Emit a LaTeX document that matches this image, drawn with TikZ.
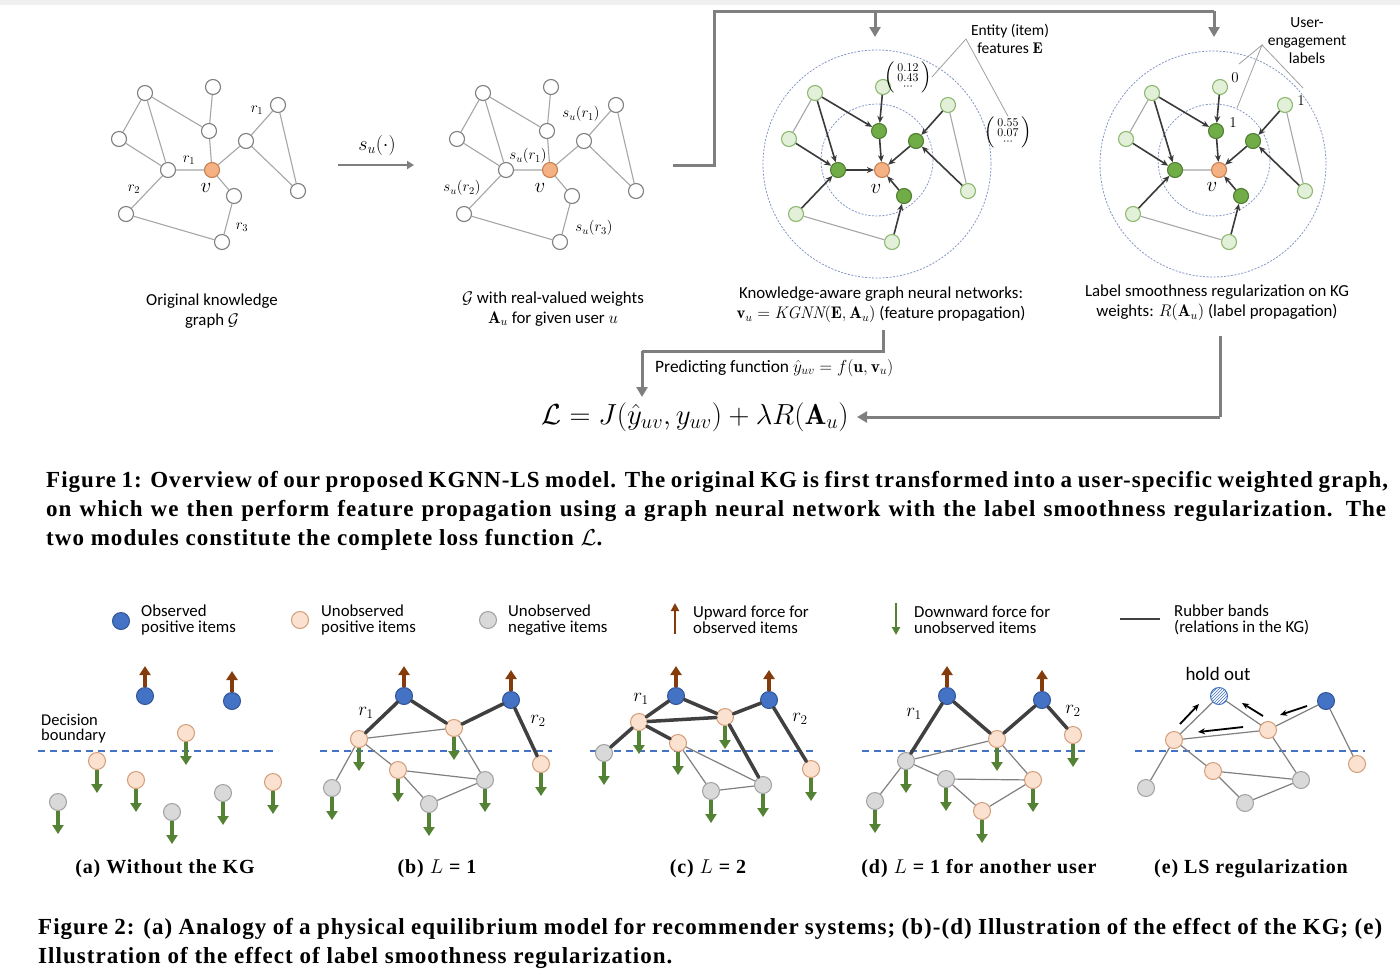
\RequirePackage{fix-cm}
\documentclass[tikz,border=0pt]{standalone}
\usepackage{amsmath}
\usepackage{fontspec}
\usetikzlibrary{arrows.meta,patterns}
\newfontfamily\calibri{Carlito}
\newfontfamily\capserif[LetterSpace=4.5]{Liberation Serif}
\definecolor{kgray}{HTML}{7F7F7F}
\definecolor{kedge}{HTML}{A6A6A6}
\definecolor{orF}{HTML}{F4B183}
\definecolor{orB}{HTML}{C9804F}
\definecolor{lgF}{HTML}{E2F0D9}
\definecolor{lgB}{HTML}{8DB870}
\definecolor{gnF}{HTML}{70AD47}
\definecolor{gnB}{HTML}{507E32}
\definecolor{darkE}{HTML}{3A3A3A}
\definecolor{circB}{HTML}{8497C8}
\definecolor{connG}{HTML}{7F7F7F}
\definecolor{blueF}{HTML}{4472C4}
\definecolor{blueB}{HTML}{2F5597}
\definecolor{peF}{HTML}{FBE2D0}
\definecolor{peB}{HTML}{D39C78}
\definecolor{grF}{HTML}{D9D9D9}
\definecolor{grB}{HTML}{A0A0A0}
\definecolor{brownA}{HTML}{843C0C}
\definecolor{greenA}{HTML}{548235}
\definecolor{thinG}{HTML}{808080}
\definecolor{thickG}{HTML}{404040}
\definecolor{callG}{HTML}{A0A0A0}
\tikzset{
  kn/.style={circle, inner sep=0pt, minimum size=15pt, line width=1.1pt},
  wn/.style={kn, draw=kgray, fill=white},
  orn/.style={kn, draw=orB, fill=orF},
  ln/.style={kn, draw=lgB, fill=lgF},
  gn/.style={kn, draw=gnB, fill=gnF},
  ke/.style={draw=kedge, line width=1.1pt},
  ka/.style={draw=darkE, line width=1.6pt, -{Stealth[length=7pt,width=6pt]}},
  ml/.style={font=\fontsize{15}{15}\selectfont, inner sep=0pt},
  vl/.style={font=\fontsize{21}{21}\selectfont, inner sep=0pt},
  lab/.style={font=\calibri\fontsize{16.8}{20}\selectfont, align=center, inner sep=0pt},
  conn/.style={draw=connG, line width=3pt},
  conna/.style={conn, -{Triangle[length=10pt,width=11pt]}},
  dcirc/.style={draw=circB, line width=0.8pt, dash pattern=on 2pt off 1.5pt},
  callout/.style={draw=callG, line width=0.8pt},
  fn/.style={circle, inner sep=0pt, minimum size=17pt, line width=1pt},
  bn/.style={fn, draw=blueB, fill=blueF},
  pn/.style={fn, draw=peB, fill=peF},
  gyn/.style={fn, draw=grB, fill=grF},
  hn/.style={fn, draw=blueF, preaction={fill=white}, pattern=north east lines, pattern color=blueF},
  upf/.style={draw=brownA, line width=3.2pt, -{Triangle[length=9pt,width=11pt]}},
  dnf/.style={draw=greenA, line width=3.2pt, -{Triangle[length=9pt,width=11pt]}},
  te/.style={draw=thinG, line width=1.2pt},
  tk/.style={draw=thickG, line width=3.5pt, line cap=round},
  pushar/.style={draw=black, line width=1.8pt, -{Stealth[length=7pt,width=6pt]}},
  dbound/.style={draw=blueF, line width=1.4pt, dash pattern=on 7pt off 5pt},
  leg/.style={font=\calibri\fontsize{16.8}{16}\selectfont, align=left, anchor=west, inner sep=0pt},
  subcap/.style={font=\capserif\bfseries\fontsize{20}{24}\selectfont},
  capline/.style={font=\capserif\bfseries\fontsize{23}{26}\selectfont, anchor=west, inner sep=0pt},
  rl/.style={font=\fontsize{19}{19}\selectfont, inner sep=0pt},
  vecl/.style={font=\fontsize{17}{17}\selectfont, inner sep=0pt},
}
\newcommand\kgraph[4]{%
  \node[#2] (#1A) at (145,93) {};
  \node[#2] (#1B) at (213,87) {};
  \node[#2] (#1C) at (278,105) {};
  \node[#3] (#1D) at (209,131) {};
  \node[#2] (#1E) at (119,139) {};
  \node[#3] (#1F) at (246,141) {};
  \node[#3] (#1G) at (168,170) {};
  \node[#4] (#1v) at (212,170) {};
  \node[#3] (#1H) at (234,196) {};
  \node[#2] (#1I) at (298,191) {};
  \node[#2] (#1J) at (126,214) {};
  \node[#2] (#1K) at (222,242) {};
}
\newcommand\kgedges[1]{%
  \draw[ke] (#1A)--(#1E) (#1A)--(#1G) (#1A)--(#1D) (#1B)--(#1D) (#1D)--(#1v)
            (#1E)--(#1G) (#1G)--(#1v) (#1v)--(#1F) (#1F)--(#1C) (#1F)--(#1I)
            (#1C)--(#1I) (#1v)--(#1H) (#1H)--(#1K) (#1G)--(#1J) (#1J)--(#1K);
}
\newcommand\upar[1]{\draw[upf] (#1.north) -- ++(0,-21);}
\newcommand\dnar[1]{\draw[dnf] (#1.south) -- ++(0,23);}
\begin{document}
\begin{tikzpicture}[x=1pt,y=-1pt]
\useasboundingbox (0,0) rectangle (1400,978);
\fill[white] (0,0) rectangle (1400,978);
\fill[black!6] (0,0) rectangle (1400,5);

% ---------- graph 1: original KG
\kgraph{a}{wn}{wn}{orn}
\kgedges{a}
\node[ml] (ar1a) at (257,110) {$r_1$};
\node[ml] (ar1b) at (189,160) {$r_1$};
\node[ml] (ar2) at (134,189) {$r_2$};
\node[ml] (ar3) at (242,227) {$r_3$};
\node[vl] (avl) at (206,188) {$v$};
\node[lab] (t1) at (212,311) {Original knowledge\\graph $\mathcal{G}$};

% arrow s_u
\coordinate (sa) at (338,165);
\coordinate (sb) at (414,165);
\draw[draw=connG, line width=2pt, -{Triangle[length=7pt,width=8pt]}] (sa) -- (sb);
\node[font=\fontsize{20}{20}\selectfont] (sul) at (377,145) {$s_u(\cdot)$};

% ---------- graph 2
\begin{scope}[shift={(338,0)}]
\kgraph{b}{wn}{wn}{orn}
\end{scope}
\kgedges{b}
\node[ml] (bs1a) at (581,114) {$s_u(r_1)$};
\node[ml] (bs1b) at (528,156) {$s_u(r_1)$};
\node[ml] (bs2) at (462,188) {$s_u(r_2)$};
\node[ml] (bs3) at (594,228) {$s_u(r_3)$};
\node[vl] (bvl) at (540,188) {$v$};
\node[lab] (t2) at (553,309) {$\mathcal{G}$ with real-valued weights\\$\mathbf{A}_u$ for given user $u$};

% ---------- graph 3
\draw[dcirc] (877,164) circle (114);
\draw[dcirc] (877,160) circle (56);
\begin{scope}[shift={(670,0)}]
\kgraph{c}{ln}{gn}{orn}
\end{scope}
\draw[ke] (cA)--(cE) (cC)--(cI) (cJ)--(cK);
\draw[ka] (cA)--(cG);
\draw[ka] (cA)--(cD);
\draw[ka] (cB)--(cD);
\draw[ka] (cD)--(cv);
\draw[ka] (cE)--(cG);
\draw[ka] (cG)--(cv);
\draw[ka] (cF)--(cv);
\draw[ka] (cC)--(cF);
\draw[ka] (cI)--(cF);
\draw[ka] (cH)--(cv);
\draw[ka] (cJ)--(cG);
\draw[ka] (cK)--(cH);
\node[vl] (cvl) at (876,189) {$v$};
\node[vecl] (vec1) at (908,77) {$\left(\begin{smallmatrix}0.12\\0.43\\\cdots\end{smallmatrix}\right)$};
\node[vecl] (vec2) at (1008,132) {$\left(\begin{smallmatrix}0.55\\0.07\\\cdots\end{smallmatrix}\right)$};
\node[lab, font=\calibri\fontsize{15.5}{18}\selectfont] (ent) at (1010,39) {Entity (item)\\features $\mathbf{E}$};
\coordinate (entap) at (966,39);
\draw[callout] (vec1.east) -- (entap) -- (vec2.north);
\node[lab] (t3) at (881,305) {Knowledge-aware graph neural networks:\\$\mathbf{v}_u = \mathit{KGNN}(\mathbf{E},\mathbf{A}_u)$ (feature propagation)};

% ---------- graph 4
\draw[dcirc] (1213,164) circle (113);
\draw[dcirc] (1214,160) circle (56);
\begin{scope}[shift={(1007,0)}]
\kgraph{d}{ln}{gn}{orn}
\end{scope}
\draw[ke] (dA)--(dE) (dC)--(dI) (dJ)--(dK) (dG)--(dv);
\draw[ka] (dA)--(dG);
\draw[ka] (dA)--(dD);
\draw[ka] (dB)--(dD);
\draw[ka] (dD)--(dv);
\draw[ka] (dE)--(dG);
\draw[ka] (dF)--(dv);
\draw[ka] (dC)--(dF);
\draw[ka] (dI)--(dF);
\draw[ka] (dH)--(dv);
\draw[ka] (dJ)--(dG);
\draw[ka] (dK)--(dH);
\node[vl] (dvl) at (1212,187) {$v$};
\node[font=\fontsize{15}{15}\selectfont, inner sep=0pt] (l0) at (1235,78) {$0$};
\node[font=\fontsize{15}{15}\selectfont, inner sep=0pt] (l1a) at (1233,123) {$1$};
\node[font=\fontsize{15}{15}\selectfont, inner sep=0pt] (l1b) at (1301,101) {$1$};
\node[lab, font=\calibri\fontsize{15.5}{18}\selectfont] (ueng) at (1307,41) {User-\\engagement\\labels};
\coordinate (ueap) at (1262,45);
\coordinate (ue1) at (1239,64);
\coordinate (ue2) at (1237,108);
\coordinate (ue3) at (1303,88);
\draw[callout] (ue1) -- (ueap) -- (ue2);
\draw[callout] (ueap) -- (ue3);
\node[lab] (t4) at (1217,303) {Label smoothness regularization on KG\\weights: $R(\mathbf{A}_u)$ (label propagation)};

% ---------- top connector
\coordinate (g2out) at (673,165);
\coordinate (cbend) at (714,165);
\coordinate (ctop) at (714,11);
\coordinate (ctopb) at (875,11);
\coordinate (ctopr) at (1214,11);
\coordinate (g3in) at (875,37);
\coordinate (g4in) at (1214,37);
\draw[conn] (g2out) -- (cbend) -- (ctop) -- (ctopr);
\draw[conna] (ctopr) -- (g4in);
\draw[conna] (ctopb) -- (g3in);

% ---------- loss
\node[inner sep=0pt] (loss) at (695,417) {\fontsize{29}{30}\selectfont$\mathcal{L} = J(\hat{y}_{uv}, y_{uv}) + \lambda R(\mathbf{A}_u)$};
\node[lab, anchor=west, font=\calibri\fontsize{17.4}{20}\selectfont] (pred) at (655,368) {Predicting function $\hat{y}_{uv} = f(\mathbf{u},\mathbf{v}_u)$};
\coordinate (p1) at (883,330);
\coordinate (p2) at (883,351);
\coordinate (p3) at (642,351);
\coordinate (p4) at (642,397);
\draw[conn] (p1) -- (p2) -- (p3);
\draw[conna] (p3) -- (p4);
\coordinate (q1) at (1220,336);
\coordinate (q2) at (1220,417);
\coordinate (q3) at (857,417);
\draw[conn] (q1) -- (q2);
\draw[conna] (q2) -- (q3);

% ---------- caption 1
\node[capline] (c1l1) at (46,482) {\makebox[1342pt][s]{Figure 1: Overview of our proposed KGNN-LS model. The original KG is first transformed into a user-specific weighted graph,}};
\node[capline] (c1l2) at (46,511) {\makebox[1340pt][s]{on which we then perform feature propagation using a graph neural network with the label smoothness regularization. The}};
\node[capline] (c1l3) at (46,540) {two modules constitute the complete loss function $\mathcal{L}$.};

% ---------- legend
\node[bn] (lgb) at (121,621) {};
\node[leg] (lgbt) at (141,620) {Observed\\positive items};
\node[pn] (lgp) at (300,620) {};
\node[leg] (lgpt) at (321,620) {Unobserved\\positive items};
\node[gyn] (lgg) at (488,620) {};
\node[leg] (lggt) at (508,620) {Unobserved\\negative items};
\coordinate (lu1) at (675,634);
\coordinate (lu2) at (675,603);
\draw[draw=brownA, line width=2.4pt, -{Triangle[length=8pt,width=8pt]}] (lu1) -- (lu2);
\node[leg] (lut) at (693,620) {Upward force for\\observed items};
\coordinate (ld1) at (896,603);
\coordinate (ld2) at (896,635);
\draw[draw=greenA, line width=2.4pt, -{Triangle[length=8pt,width=8pt]}] (ld1) -- (ld2);
\node[leg] (ldt) at (914,620) {Downward force for\\unobserved items};
\coordinate (lr1) at (1120,619);
\coordinate (lr2) at (1160,619);
\draw[draw=thickG, line width=2.4pt] (lr1) -- (lr2);
\node[leg] (lrt) at (1174,620) {Rubber bands\\(relations in the KG)};

% ---------- panel (a)
\coordinate (da1) at (38,751); \coordinate (da2) at (278,751);
\draw[dbound] (da1) -- (da2);
\node[leg, font=\calibri\fontsize{16.5}{15}\selectfont] (decb) at (41,729) {Decision\\boundary};
\node[bn] (aB1) at (145,696) {};
\node[bn] (aB2) at (232,701) {};
\node[pn] (aP1) at (186,733) {};
\node[pn] (aP2) at (97,761) {};
\node[pn] (aP3) at (136,780) {};
\node[pn] (aP4) at (273,782) {};
\node[gyn] (aG1) at (58,802) {};
\node[gyn] (aG2) at (172,812) {};
\node[gyn] (aG3) at (223,793) {};
\upar{aB1} \upar{aB2}
\dnar{aP1} \dnar{aP2} \dnar{aP3} \dnar{aP4} \dnar{aG1} \dnar{aG2} \dnar{aG3}
\node[subcap] (suba) at (165,869) {(a) Without the KG};

% ---------- panel (b)
\coordinate (db1) at (320,751); \coordinate (db2) at (552,751);
\draw[dbound] (db1) -- (db2);
\node[bn] (bB1) at (404,696) {};
\node[bn] (bB2) at (511,700) {};
\node[pn] (bP1) at (359,739) {};
\node[pn] (bP2) at (454,728) {};
\node[pn] (bP3) at (398,770) {};
\node[pn] (bP4) at (541,764) {};
\node[gyn] (bG1) at (332,788) {};
\node[gyn] (bG2) at (429,804) {};
\node[gyn] (bG3) at (485,780) {};
\draw[te] (bP1)--(bP2) (bP1)--(bG1) (bP1)--(bP3) (bP3)--(bG3) (bP3)--(bG2) (bG2)--(bG3) (bP2)--(bG3);
\draw[tk] (bP1)--(bB1) (bB1)--(bP2) (bP2)--(bB2) (bB2)--(bP4);
\upar{bB1} \upar{bB2}
\dnar{bP1} \dnar{bP2} \dnar{bP3} \dnar{bP4} \dnar{bG1} \dnar{bG2} \dnar{bG3}
\node[rl] (br1) at (366,713) {$r_1$};
\node[rl] (br2) at (538,721) {$r_2$};
\node[subcap] (subb) at (437,869) {(b) $L$ = 1};

% ---------- panel (c)
\coordinate (dc1) at (590,751); \coordinate (dc2) at (815,751);
\draw[dbound] (dc1) -- (dc2);
\node[bn] (cB1) at (676,696) {};
\node[bn] (cB2) at (769,700) {};
\node[pn] (cP1) at (639,722) {};
\node[pn] (cP2) at (725,717) {};
\node[pn] (cP3) at (678,743) {};
\node[pn] (cP4) at (811,769) {};
\node[gyn] (cG1) at (604,753) {};
\node[gyn] (cG2) at (711,791) {};
\node[gyn] (cG3) at (763,785) {};
\draw[te] (cP3)--(cG2) (cP3)--(cG3) (cG2)--(cG3);
\draw[tk] (cP1)--(cB1) (cB1)--(cP2) (cP2)--(cB2) (cB2)--(cP4) (cP1)--(cP2) (cP1)--(cG1) (cP1)--(cP3) (cP2)--(cG3);
\upar{cB1} \upar{cB2}
\dnar{cP1} \dnar{cP2} \dnar{cP3} \dnar{cP4} \dnar{cG1} \dnar{cG2} \dnar{cG3}
\node[rl] (cr1) at (641,699) {$r_1$};
\node[rl] (cr2) at (800,719) {$r_2$};
\node[subcap] (subc) at (708,869) {(c) $L$ = 2};

% ---------- panel (d)
\coordinate (dd1) at (862,751); \coordinate (dd2) at (1088,751);
\draw[dbound] (dd1) -- (dd2);
\node[bn] (dB1) at (947,696) {};
\node[bn] (dB2) at (1042,700) {};
\node[pn] (dP1) at (997,739) {};
\node[pn] (dP2) at (1073,735) {};
\node[gyn] (dG1) at (906,761) {};
\node[gyn] (dG2) at (946,779) {};
\node[pn] (dP3) at (1033,780) {};
\node[pn] (dP4) at (982,811) {};
\node[gyn] (dG3) at (875,801) {};
\draw[te] (dG1)--(dP1) (dG1)--(dG3) (dG1)--(dG2) (dG2)--(dP3) (dG2)--(dP4) (dP4)--(dP3) (dP1)--(dP3);
\draw[tk] (dG1)--(dB1) (dB1)--(dP1) (dP1)--(dB2) (dB2)--(dP2);
\upar{dB1} \upar{dB2}
\dnar{dG1} \dnar{dP1} \dnar{dP2} \dnar{dG2} \dnar{dP3} \dnar{dP4} \dnar{dG3}
\node[rl] (dr1) at (914,714) {$r_1$};
\node[rl] (dr2) at (1073,711) {$r_2$};
\node[subcap] (subd) at (979,869) {(d) $L$ = 1 for another user};

% ---------- panel (e)
\coordinate (de1) at (1135,751); \coordinate (de2) at (1365,751);
\draw[dbound] (de1) -- (de2);
\node[hn] (eH) at (1219,696) {};
\node[bn] (eB) at (1326,701) {};
\node[pn] (eP1) at (1174,740) {};
\node[pn] (eP2) at (1268,730) {};
\node[pn] (eP3) at (1213,771) {};
\node[pn] (eP4) at (1357,764) {};
\node[gyn] (eG1) at (1146,788) {};
\node[gyn] (eG2) at (1245,803) {};
\node[gyn] (eG3) at (1301,780) {};
\draw[te] (eP1)--(eH) (eH)--(eP2) (eP2)--(eB) (eB)--(eP4) (eP1)--(eP2) (eP1)--(eG1) (eP1)--(eP3) (eP3)--(eG3) (eP3)--(eG2) (eG2)--(eG3) (eP2)--(eG3);
\coordinate (ea1) at (1180,724); \coordinate (ea2) at (1199,704);
\coordinate (eb1) at (1263,716); \coordinate (eb2) at (1242,703);
\coordinate (ec1) at (1307,706); \coordinate (ec2) at (1280,715);
\coordinate (ed1) at (1243,727); \coordinate (ed2) at (1198,732);
\draw[pushar] (ea1) -- (ea2);
\draw[pushar] (eb1) -- (eb2);
\draw[pushar] (ec1) -- (ec2);
\draw[pushar] (ed1) -- (ed2);
\node[font=\calibri\fontsize{19}{19}\selectfont] (hold) at (1218,674) {hold out};
\node[subcap] (sube) at (1251,869) {(e) LS regularization};

% ---------- caption 2
\node[capline] (c2l1) at (38,929) {\makebox[1344pt][s]{Figure 2: (a) Analogy of a physical equilibrium model for recommender systems; (b)-(d) Illustration of the effect of the KG; (e)}};
\node[capline] (c2l2) at (38,958) {Illustration of the effect of label smoothness regularization.};
\end{tikzpicture}
\end{document}
